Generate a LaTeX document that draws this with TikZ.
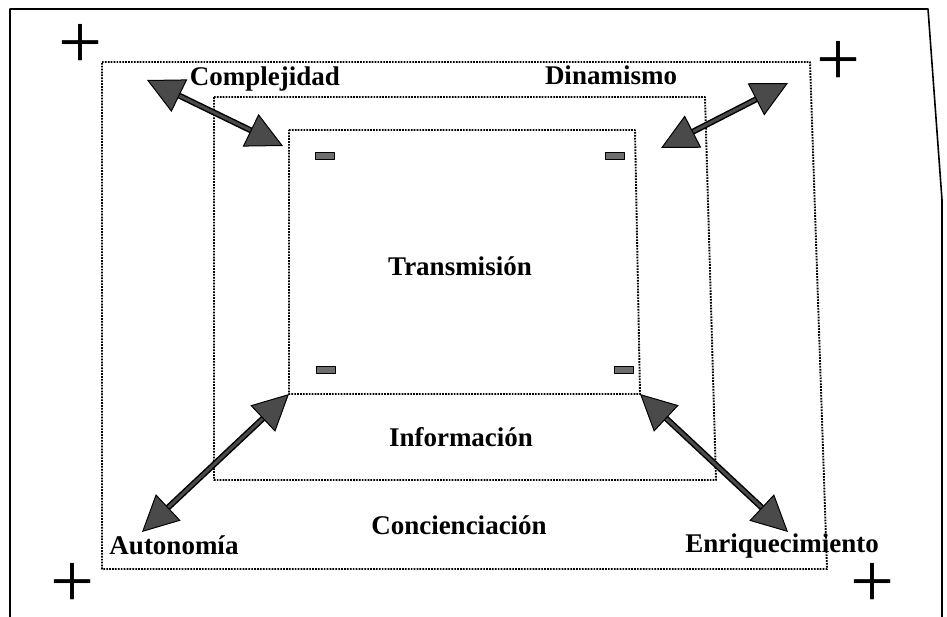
\documentclass[tikz,border=0pt]{standalone}
\usepackage{fontspec}
\setmainfont{Liberation Serif}
\usetikzlibrary{arrows.meta}
\definecolor{grisflecha}{HTML}{4A4A4A}
\definecolor{grismenos}{HTML}{6E6E6E}
\tikzset{
  caja/.style={line width=1.9pt, dash pattern=on 1.7pt off 1.2pt},
  etiqueta/.style={font=\fontsize{27}{32}\selectfont\bfseries, inner sep=0pt},
  signo/.style={font=\fontsize{78}{78}\selectfont, inner sep=0pt},
  menos/.style={draw=black, fill=grismenos, line width=1.3pt, minimum width=19pt, minimum height=6.5pt, inner sep=0pt},
  punta/.tip={Triangle[length=36pt, width=36pt, fill=grisflecha, color=black, line width=1pt]},
  flecha/.style={line width=1.5pt, draw=black, double=grisflecha, double distance=3pt, punta-punta}
}
\begin{document}
\begin{tikzpicture}[x=1pt, y=-1pt, line join=round, line cap=butt]
\useasboundingbox (0,0) rectangle (947,617);
% marco
\draw[line width=1.6pt] (10,617) -- (10,9) -- (928,9) -- (942,200) -- (942,617);
% esquinas de los tres recuadros
\path (102,62) coordinate (exTL) (810,62) coordinate (exTR) (827,569) coordinate (exBR) (102,569) coordinate (exBL);
\path (214,97) coordinate (meTL) (705,97) coordinate (meTR) (716,480) coordinate (meBR) (214,480) coordinate (meBL);
\path (289,130) coordinate (inTL) (635,130) coordinate (inTR) (640,394) coordinate (inBR) (289,394) coordinate (inBL);
\foreach \r in {ex,me,in} \draw[caja] (\r TL) -- (\r TR) -- (\r BR) -- (\r BL) -- cycle;
% textos
\node[etiqueta] (complejidad) at (265,79) {Complejidad};
\node[etiqueta] (dinamismo) at (611,75) {Dinamismo};
\node[etiqueta] (transmision) at (460,266) {Transmisión};
\node[etiqueta] (informacion) at (461,437) {Información};
\node[etiqueta] (concienciacion) at (459,525) {Concienciación};
\node[etiqueta] (autonomia) at (174,545) {Autonomía};
\node[etiqueta] (enriquecimiento) at (782,546) {Enriquecimiento};
% signos
\foreach \n/\x/\y in {masA/80/46, masB/838/63, masC/72/585, masD/872/585}
  \node[signo] (\n) at (\x,\y) {+};
\foreach \n/\x/\y in {menA/325/156, menB/615/156, menC/326/370, menD/624/370}
  \node[menos] (\n) at (\x,\y) {};
% flechas
\path (147,80) coordinate (comA) (283,146) coordinate (comB)
      (788,83) coordinate (dinA) (661,148) coordinate (dinB)
      (142,532) coordinate (autA) (788,532) coordinate (enrA);
\draw[flecha] (comA) -- (comB);
\draw[flecha] (dinA) -- (dinB);
\draw[flecha] (autA) -- (inBL);
\draw[flecha] (inBR) -- (enrA);
\end{tikzpicture}
\end{document}
